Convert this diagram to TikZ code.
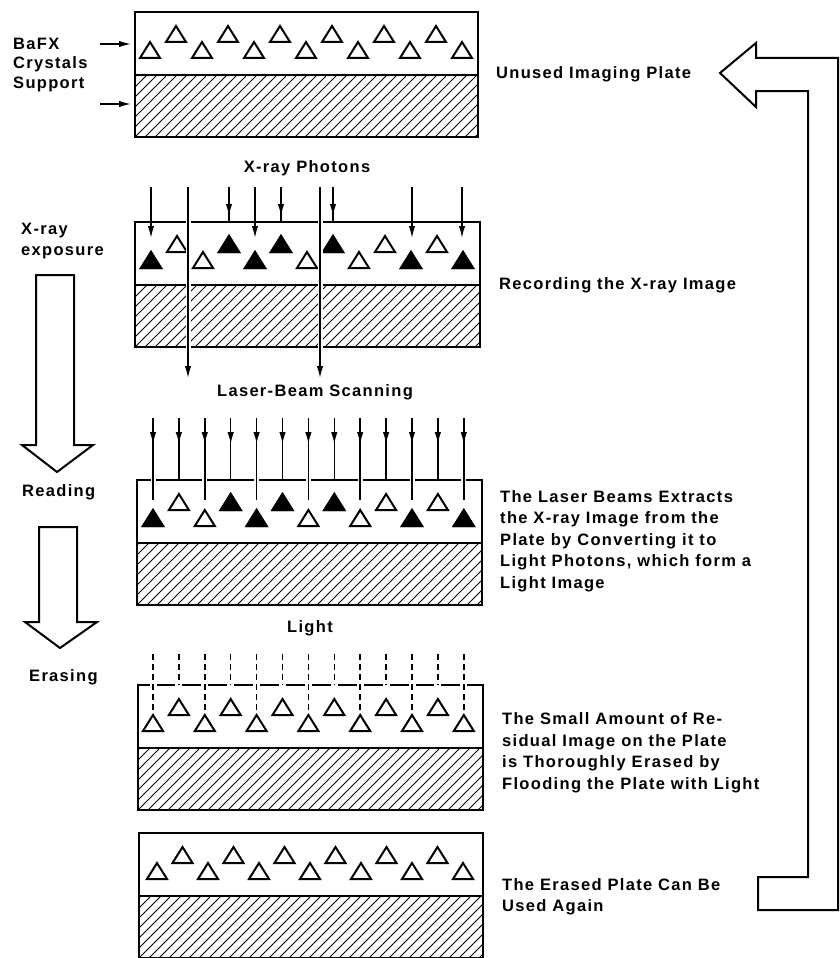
\documentclass[tikz,border=0pt]{standalone}
\usepackage{fontspec}
\setmainfont{Liberation Sans}[LetterSpace=8]
\usepackage{tikz}
\usetikzlibrary{arrows.meta}

\begin{document}
\begin{tikzpicture}[x=1pt, y=-1pt,
    plate/.style={line width=2.4pt},
    hatch/.style={line width=1pt},
    crystal/.style={line width=2pt, line join=miter},
    ray/.style={line width=1.5pt, -{Latex[length=12pt, width=6.5pt]}},
    beam/.style={line width=1.5pt},
    halo/.style={preaction={draw, white, line width=5pt}},
    lightray/.style={line width=1.5pt, dash pattern=on 6pt off 4pt},
    lbl/.style={font=\bfseries\fontsize{16.5}{21.5}\selectfont, inner sep=0pt},
    blockarrow/.style={line width=2pt, line join=miter}
]
    \useasboundingbox (0,0) rectangle (840,958);

    % plates: support hatching, outline, divider
    \foreach \t/\l/\r in {12/135/478, 222/135/480, 480/137/482, 685/138/483, 833/139/483} {
        \begin{scope}
            \clip (\l,\t+63) rectangle (\r,\t+125);
            \foreach \k in {0,...,42}
                \draw[hatch] (\l-70+10*\k,\t+125) -- ++(63,-63);
        \end{scope}
        \draw[plate] (\l,\t) rectangle (\r,\t+125);
        \draw[plate] (\l,\t+63) -- (\r,\t+63);
    }

    % crystals (hollow)
    \foreach \t/\a/\s in {12/150/26, 222/151/26, 480/153/25.9, 685/153/25.9, 833/157/25.5}
        \foreach \i in {0,...,12} {
            \pgfmathsetmacro\cx{\a+\s*\i}
            \pgfmathsetmacro\cy{\t+46-16*mod(\i,2)}
            \draw[crystal, fill=white] (\cx-10,\cy) -- (\cx,\cy-16) -- (\cx+10,\cy) -- cycle;
        }
    % crystals holding the image
    \foreach \t/\a/\s in {222/151/26, 480/153/25.9}
        \foreach \i in {0,3,4,5,7,10,12} {
            \pgfmathsetmacro\cx{\a+\s*\i}
            \pgfmathsetmacro\cy{\t+46-16*mod(\i,2)}
            \draw[crystal, fill=black] (\cx-10,\cy) -- (\cx,\cy-16) -- (\cx+10,\cy) -- cycle;
        }

    % x-ray photons
    \foreach \x in {188,320}
        \draw[ray, halo] (\x,187) -- (\x,378);
    \foreach \x in {151,255,412,462}
        \draw[ray] (\x,187) -- (\x,238);
    \foreach \x in {229,281,333} {
        \draw[beam] (\x,187) -- (\x,222);
        \draw[ray] (\x,187) -- (\x,216);
    }

    % laser beams
    \foreach \i in {0,2,...,12} {
        \pgfmathsetmacro\bx{153+25.9*\i}
        \draw[beam, halo] (\bx,418) -- (\bx,500);
        \draw[ray] (\bx,418) -- (\bx,444);
    }
    \foreach \i in {1,3,...,11} {
        \pgfmathsetmacro\bx{153+25.9*\i}
        \draw[beam] (\bx,418) -- (\bx,480);
        \draw[ray] (\bx,418) -- (\bx,444);
    }

    % flooding light
    \foreach \i in {0,...,12} {
        \pgfmathsetmacro\bx{153+25.9*\i}
        \pgfmathsetmacro\by{712-27*mod(\i,2)}
        \fill[white] (\bx-3.5,681) rectangle (\bx+3.5,689);
        \draw[lightray] (\bx,654) -- (\bx,\by);
    }

    % pointers to the layers
    \draw[ray] (100,44) -- (131,44);
    \draw[ray] (100,104) -- (131,104);

    % process arrows
    \draw[blockarrow] (36,275) -- (74,275) -- (74,445) -- (93,445) -- (57,472)
        -- (22,445) -- (36,445) -- cycle;
    \draw[blockarrow] (39,527) -- (77,527) -- (77,622) -- (97,622) -- (60,648)
        -- (25,622) -- (39,622) -- cycle;
    \draw[blockarrow] (720,73) -- (756,43) -- (756,58) -- (838,58) -- (838,910)
        -- (758,910) -- (758,877) -- (808,877) -- (808,91) -- (756,91) -- (756,107) -- cycle;

    % labels
    \node[lbl, anchor=west, align=left, font=\bfseries\fontsize{16.5}{19.5}\selectfont] (bafx) at (13,65) {BaFX\\Crystals\\Support};
    \node[lbl] (photons) at (307,168) {X-ray Photons};
    \node[lbl] (scan) at (315,392) {Laser-Beam Scanning};
    \node[lbl] (light) at (310,628) {Light};
    \node[lbl, anchor=west, align=left] (expo) at (21,241) {X-ray\\exposure};
    \node[lbl, anchor=west] (reading) at (22,492) {Reading};
    \node[lbl, anchor=west] (erasing) at (29,677) {Erasing};

    \node[lbl, anchor=west] (unused) at (496,74) {Unused Imaging Plate};
    \node[lbl, anchor=west] (record) at (499,285) {Recording the X-ray Image};
    \node[lbl, anchor=west, align=left] (extract) at (500,541)
        {The Laser Beams Extracts\\the X-ray Image from the\\Plate by Converting it to\\Light Photons, which form a\\Light Image};
    \node[lbl, anchor=west, align=left] (residual) at (502,753)
        {The Small Amount of Re-\\sidual Image on the Plate\\is Thoroughly Erased by\\Flooding the Plate with Light};
    \node[lbl, anchor=west, align=left] (again) at (502,897)
        {The Erased Plate Can Be\\Used Again};
\end{tikzpicture}
\end{document}
